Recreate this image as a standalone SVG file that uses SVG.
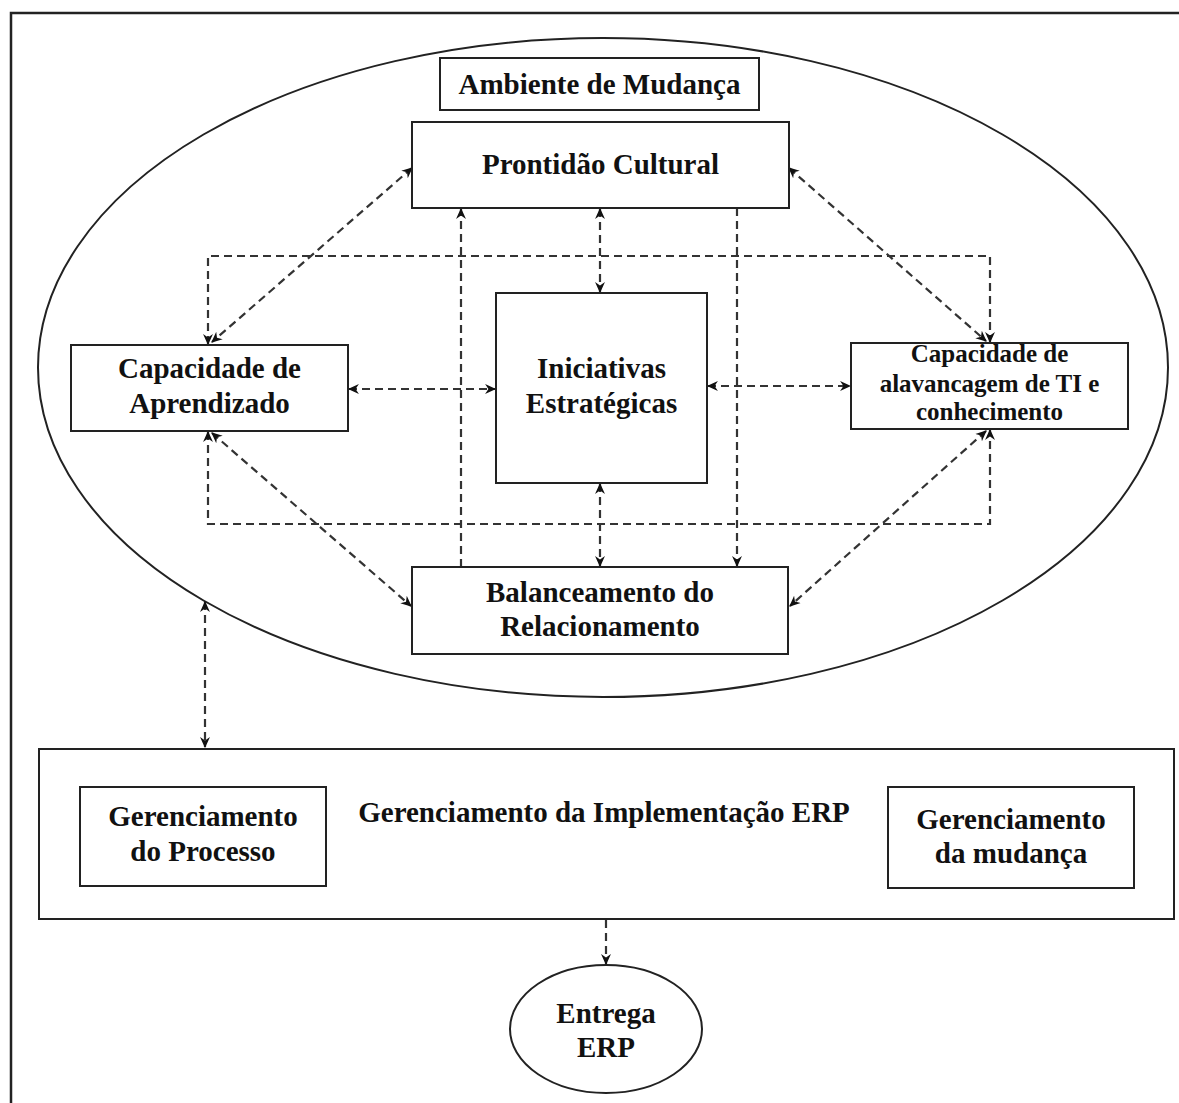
<svg xmlns="http://www.w3.org/2000/svg" width="1179" height="1103" viewBox="0 0 1179 1103">
  <style>
    .frame { fill: none; stroke: #222; stroke-width: 2.5; }
    .box { fill: #fff; stroke: #222; stroke-width: 2; }
    .ring { fill: none; stroke: #222; stroke-width: 2; }
    .lbl { font-family: "Liberation Serif", "Times New Roman", serif; font-weight: bold; font-size: 29px; fill: #111; text-anchor: middle; }
    .sm { font-size: 25px; }
    .dash { fill: none; stroke: #333; stroke-width: 2.2; stroke-dasharray: 8 5; }
    .both { marker-start: url(#ah); marker-end: url(#ah); }
    .fwd { marker-end: url(#ah); }
  </style>
  <defs>
    <marker id="ah" viewBox="0 0 10 10" refX="9" refY="5" markerWidth="11" markerHeight="11" markerUnits="userSpaceOnUse" orient="auto-start-reverse">
      <path d="M0,0.5 L10,5 L0,9.5 L3,5 z" fill="#111"/>
    </marker>
  </defs>

  <rect width="1179" height="1103" fill="#fff"/>
  <!-- outer frame -->
  <rect class="frame" x="11" y="13" width="1180" height="1100"/>

  <!-- change environment -->
  <g id="ambiente">
    <ellipse class="ring" cx="603" cy="367.5" rx="565" ry="329.5"/>
    <rect class="box" x="440" y="58" width="319" height="52"/>
    <text class="lbl" x="599.5" y="94">Ambiente de Mudança</text>
  </g>

  <g id="connectors">
    <!-- diagonals -->
    <line class="dash both" x1="412" y1="168" x2="212" y2="342"/>
    <line class="dash both" x1="789" y1="168" x2="986" y2="341"/>
    <line class="dash both" x1="212" y1="433" x2="411" y2="606"/>
    <line class="dash both" x1="986" y1="431" x2="790" y2="606"/>
    <!-- dashed loop around the centre -->
    <path class="dash both" d="M208,344 V256 H990 V342"/>
    <path class="dash both" d="M208,432 V524 H990 V430"/>
    <!-- horizontals to the centre -->
    <line class="dash both" x1="349" y1="389" x2="495" y2="389"/>
    <line class="dash both" x1="708" y1="386" x2="850" y2="386"/>
    <!-- verticals -->
    <line class="dash both" x1="600" y1="209" x2="600" y2="292"/>
    <line class="dash both" x1="600" y1="484" x2="600" y2="566"/>
    <line class="dash fwd" x1="461" y1="567" x2="461" y2="209"/>
    <line class="dash fwd" x1="737" y1="208" x2="737" y2="566"/>
    <!-- links below the ellipse -->
    <line class="dash both" x1="205" y1="602" x2="205" y2="747"/>
    <line class="dash both" x1="327" y1="838" x2="887" y2="838"/>
    <line class="dash fwd" x1="606" y1="920" x2="606" y2="964"/>
  </g>

  <g id="prontidao">
    <rect class="box" x="412" y="122" width="377" height="86"/>
    <text class="lbl" x="600.5" y="174">Prontidão Cultural</text>
  </g>

  <g id="aprendizado">
    <rect class="box" x="71" y="345" width="277" height="86"/>
    <text class="lbl" x="209.5" y="378">Capacidade de</text>
    <text class="lbl" x="209.5" y="413">Aprendizado</text>
  </g>

  <g id="iniciativas">
    <rect class="box" x="496" y="293" width="211" height="190"/>
    <text class="lbl" x="601.5" y="378">Iniciativas</text>
    <text class="lbl" x="601.5" y="413">Estratégicas</text>
  </g>

  <g id="alavancagem">
    <rect class="box" x="851" y="343" width="277" height="86"/>
    <text class="lbl sm" x="989.5" y="362">Capacidade de</text>
    <text class="lbl sm" x="989.5" y="392">alavancagem de TI e</text>
    <text class="lbl sm" x="989.5" y="420">conhecimento</text>
  </g>

  <g id="balanceamento">
    <rect class="box" x="412" y="567" width="376" height="87"/>
    <text class="lbl" x="600" y="602">Balanceamento do</text>
    <text class="lbl" x="600" y="636">Relacionamento</text>
  </g>

  <g id="implementacao">
    <rect class="box" x="39" y="749" width="1135" height="170"/>
    <text class="lbl" x="604" y="822">Gerenciamento da Implementação ERP</text>
  </g>

  <g id="processo">
    <rect class="box" x="80" y="787" width="246" height="99"/>
    <text class="lbl" x="203" y="826">Gerenciamento</text>
    <text class="lbl" x="203" y="861">do Processo</text>
  </g>

  <g id="mudanca">
    <rect class="box" x="888" y="787" width="246" height="101"/>
    <text class="lbl" x="1011" y="829">Gerenciamento</text>
    <text class="lbl" x="1011" y="863">da mudança</text>
  </g>

  <g id="entrega">
    <ellipse class="ring" cx="606" cy="1029" rx="96" ry="64"/>
    <text class="lbl" x="606" y="1023">Entrega</text>
    <text class="lbl" x="606" y="1057">ERP</text>
  </g>
</svg>
